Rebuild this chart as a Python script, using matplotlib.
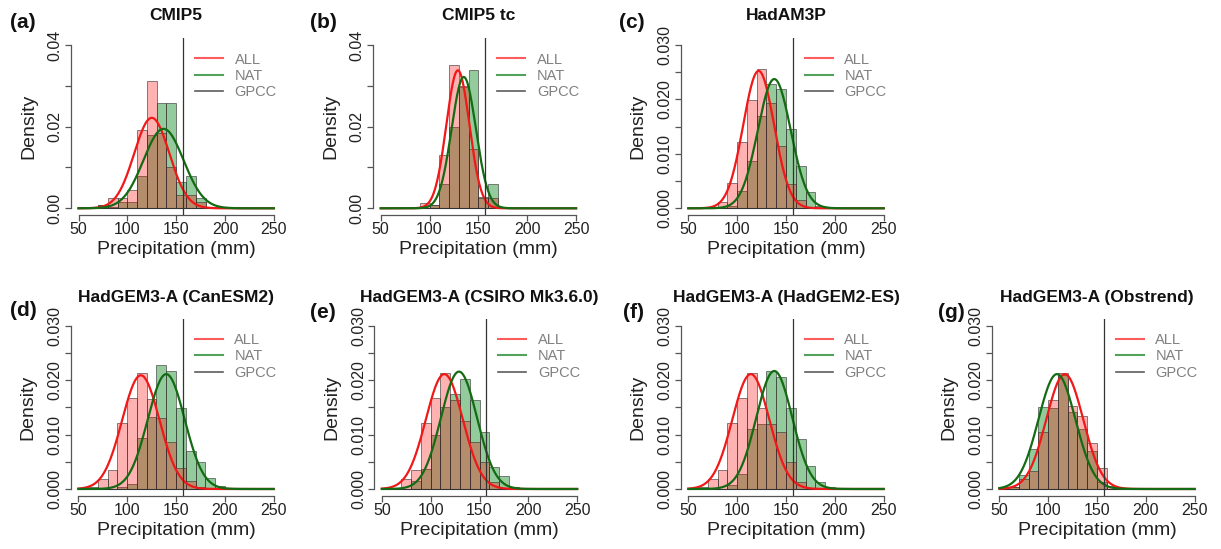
import numpy as np
import matplotlib.pyplot as plt
from matplotlib.lines import Line2D

plt.rcParams['font.family'] = ['Liberation Sans', 'DejaVu Sans']

# histogram bins (left edges, width 10 mm)
bin_left = list(range(50, 250, 10))
gpcc = 157

tags = ['(a)', '(b)', '(c)', '(d)', '(e)', '(f)', '(g)']
titles = ['CMIP5', 'CMIP5 tc', 'HadAM3P', 'HadGEM3-A (CanESM2)',
          'HadGEM3-A (CSIRO Mk3.6.0)', 'HadGEM3-A (HadGEM2-ES)',
          'HadGEM3-A (Obstrend)']

# densities per bin: 50,60,...,240
all_a = [0, 0, 0.0008, 0.0026, 0.0025, 0.0045, 0.0192, 0.0312, 0.0185, 0.0102,
         0.0033, 0.0033, 0.0016, 0.0004, 0, 0, 0, 0, 0, 0]
nat_a = [0.0004, 0, 0.0008, 0.0004, 0.0016, 0.0016, 0.0078, 0.018, 0.0259, 0.0259,
         0.0064, 0.0079, 0.0025, 0.0004, 0.0004, 0.0004, 0.0004, 0, 0, 0]
all_b = [0, 0, 0, 0, 0.0012, 0.0008, 0.0131, 0.0351, 0.030, 0.0145,
         0.0024, 0.0025, 0, 0, 0, 0, 0, 0, 0, 0]
nat_b = [0, 0, 0, 0, 0, 0.0008, 0.006, 0.020, 0.0298, 0.034,
         0.0027, 0.006, 0, 0, 0, 0, 0, 0, 0, 0]
all_c = [0, 0, 0.0003, 0.0012, 0.0046, 0.0122, 0.0199, 0.0256, 0.0193, 0.0115,
         0.0045, 0.0015, 0.0003, 0, 0, 0, 0, 0, 0, 0]
nat_c = [0, 0, 0, 0, 0.0005, 0.0031, 0.0087, 0.017, 0.0228, 0.022,
         0.0145, 0.0077, 0.0029, 0.0005, 0, 0, 0, 0, 0, 0]
all_d = [0, 0.0003, 0.0018, 0.0034, 0.0121, 0.0168, 0.0214, 0.0165, 0.013, 0.0087,
         0.0039, 0.0015, 0.0004, 0, 0, 0, 0, 0, 0, 0]
nat_d = [0, 0, 0, 0, 0.0003, 0.001, 0.0094, 0.0132, 0.0227, 0.0216,
         0.0149, 0.007, 0.005, 0.0021, 0.0006, 0, 0, 0, 0, 0]
all_e = [0, 0, 0.0018, 0.0035, 0.0122, 0.0168, 0.0214, 0.0163, 0.0124, 0.0087,
         0.005, 0.0013, 0, 0, 0, 0, 0, 0, 0, 0]
nat_e = [0, 0, 0, 0.0015, 0.0036, 0.010, 0.0151, 0.0175, 0.0203, 0.0163,
         0.0104, 0.004, 0.0024, 0.0003, 0, 0, 0, 0, 0, 0]
all_f = [0, 0.0003, 0.0018, 0.0034, 0.0121, 0.0168, 0.0214, 0.0148, 0.012, 0.0105,
         0.005, 0.0013, 0, 0, 0, 0, 0, 0, 0, 0]
nat_f = [0, 0, 0, 0, 0.0008, 0.0027, 0.011, 0.012, 0.0217, 0.0205,
         0.0148, 0.0091, 0.0043, 0.0013, 0.0003, 0, 0, 0, 0, 0]
all_g = [0, 0.0003, 0.0018, 0.0033, 0.0104, 0.0163, 0.0214, 0.0153, 0.0135, 0.0084,
         0.0038, 0.0006, 0, 0, 0, 0, 0, 0, 0, 0]
nat_g = [0, 0.0003, 0.0026, 0.0073, 0.015, 0.0148, 0.0209, 0.0142, 0.011, 0.0069,
         0.0012, 0, 0, 0, 0, 0, 0, 0, 0, 0]

# fitted normal curves (mean, sd)
fit_all = [(125, 18.0), (129, 11.8), (122, 15.8), (114, 19.1), (114, 18.9), (114, 18.9), (117, 18.9)]
fit_nat = [(137, 20.5), (135, 12.4), (138, 16.8), (140, 18.9), (129, 18.5), (138, 18.4), (109, 18.9)]

y_top = [0.04, 0.04, 0.03, 0.03, 0.03, 0.03, 0.03]
y_step = [0.01, 0.01, 0.005, 0.005, 0.005, 0.005, 0.005]

all_data = [all_a, all_b, all_c, all_d, all_e, all_f, all_g]
nat_data = [nat_a, nat_b, nat_c, nat_d, nat_e, nat_f, nat_g]

W, H = 1221, 549
# axes boxes in pixels (left, top)
boxes = [(70.7, 38.5), (372.9, 38.5), (680.5, 38.5),
         (70.5, 319.2), (374.0, 319.2), (680.5, 319.2), (991.5, 319.2)]
tag_pos = [(23, 22), (323, 22), (632, 22), (23, 311), (323, 313), (633, 313), (951, 313)]
box_w, box_h = 211, 176.3

red_fill = (1, 0, 0, 0.3)
green_fill = (0, 133 / 255, 22 / 255, 0.42)
edge = (0.2, 0.2, 0.2, 0.7)
axis_col = '#555555'
text_col = '#222222'


def normal_pdf(x, mu, sd):
    return np.exp(-0.5 * ((x - mu) / sd) ** 2) / (sd * np.sqrt(2 * np.pi))


fig = plt.figure(figsize=(W / 100, H / 100), dpi=100)

for i in range(7):
    left, top = boxes[i]
    ax = fig.add_axes([left / W, 1 - (top + box_h) / H, box_w / W, box_h / H])
    yt = y_top[i]

    ax.bar(bin_left, nat_data[i], width=10, align='edge', color=green_fill,
           edgecolor=edge, linewidth=0.6, zorder=2)
    ax.bar(bin_left, all_data[i], width=10, align='edge', color=red_fill,
           edgecolor=edge, linewidth=0.6, zorder=3)
    ax.plot([bin_left[0], bin_left[-1] + 10], [0, 0], color='#333333', lw=0.8, zorder=3)

    xs = np.linspace(50, 250, 500)
    ax.plot(xs, normal_pdf(xs, *fit_all[i]), color='#f01818', lw=1.6, zorder=4)
    ax.plot(xs, normal_pdf(xs, *fit_nat[i]), color='#146b14', lw=1.6, zorder=5)
    ax.axvline(gpcc, color='#333333', lw=0.9, zorder=6)

    ax.set_xlim(50 - 8, 250 + 8)
    ax.set_ylim(-0.04 * yt, 1.04 * yt)
    for s in ['top', 'right']:
        ax.spines[s].set_visible(False)
    ax.spines['left'].set_bounds(0, yt)
    ax.spines['bottom'].set_bounds(50, 250)
    for s in ['left', 'bottom']:
        ax.spines[s].set_color(axis_col)
        ax.spines[s].set_linewidth(0.9)

    ax.set_xticks([50, 100, 150, 200, 250])
    yticks = np.arange(0, yt + y_step[i] / 2, y_step[i])
    ax.set_yticks(yticks)
    dec = 2 if yt == 0.04 else 3
    ylabels = [('%.*f' % (dec, v)) if k % 2 == 0 else '' for k, v in enumerate(yticks)]
    ax.set_yticklabels(ylabels)
    ax.tick_params(axis='both', direction='out', length=4.3, width=0.9,
                   color=axis_col, labelsize=11.5, labelcolor=text_col)
    ax.tick_params(axis='x', pad=1)
    ax.tick_params(axis='y', pad=1.5)
    for lab in ax.get_yticklabels():
        lab.set_rotation(90)
        lab.set_va('center')

    ax.set_xlabel('Precipitation (mm)', fontsize=14, color=text_col)
    ax.set_ylabel('Density', fontsize=14, color=text_col)
    ax.xaxis.set_label_coords(0.5, -0.148)
    ax.yaxis.set_label_coords(-0.16, 0.5)

    title_gap = 23.5 if i < 3 else 21.5
    ax.text(0.5, 1 + title_gap / box_h, titles[i], transform=ax.transAxes,
            ha='center', va='center', fontsize=12.5, fontweight='bold', color='#111111')
    tx, ty = tag_pos[i]
    fig.text(tx / W, 1 - ty / H, tags[i], ha='center', va='center',
             fontsize=15, fontweight='bold', color='#111111')

    handles = [Line2D([], [], color=(1, 0.2, 0.2, 0.8), lw=1.5),
               Line2D([], [], color=(0.15, 0.55, 0.2, 0.8), lw=1.5),
               Line2D([], [], color=(0.2, 0.2, 0.2, 0.8), lw=1.2)]
    ax.legend(handles, ['ALL', 'NAT', 'GPCC'], loc='upper left',
              bbox_to_anchor=(0.59, 0.92), frameon=False, fontsize=10.5,
              labelcolor='#808080', handlelength=1.9, handletextpad=0.8,
              labelspacing=0.15, borderpad=0, borderaxespad=0)

fig.savefig('out.png', dpi=100)
